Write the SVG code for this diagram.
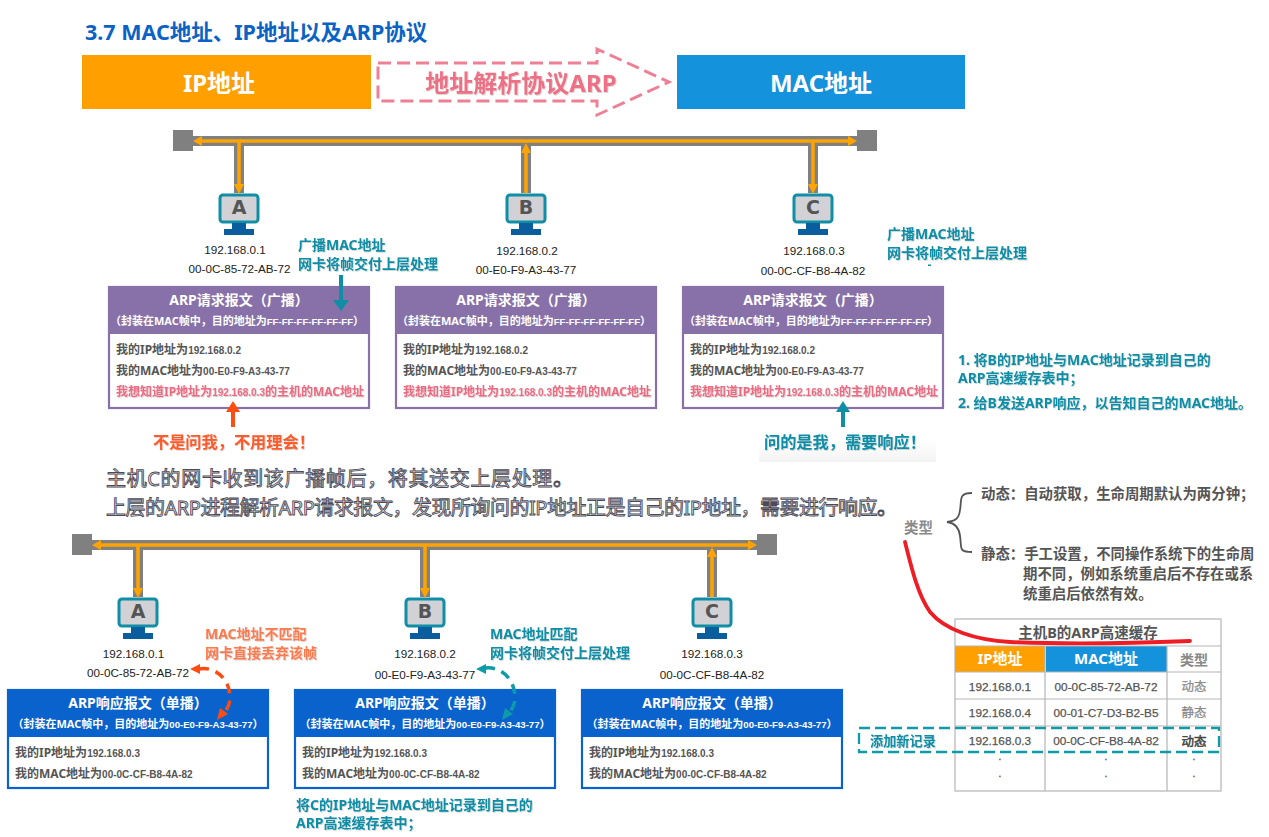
<svg xmlns="http://www.w3.org/2000/svg" width="1269" height="837" viewBox="0 0 1269 837">
<style>
text{font-family:'Noto Sans','Noto Sans CJK SC',sans-serif}
.b{font-weight:700}
.m{text-anchor:middle}
.addr{font-family:'Liberation Sans','Noto Sans CJK SC',sans-serif;font-size:11.7px;fill:#222;text-anchor:middle}
.teal{fill:#0f8ea6;font-weight:700;font-size:14px;filter:url(#soft)}
.body{fill:#555;font-weight:700;font-size:12px}
.num{font-family:'Liberation Sans',sans-serif;font-size:10px}
.tiny{font-family:'Liberation Sans',sans-serif;font-size:9.6px}
.hd{fill:#fff;font-weight:700;font-size:14px;text-anchor:middle}
.sub{fill:#fff;font-weight:700;font-size:11px;text-anchor:middle}
.red{fill:#ee6a80;font-weight:700;font-size:12px;filter:url(#soft)}
.letter{font-family:'DejaVu Sans',sans-serif;font-weight:700;font-size:19px;fill:#555;text-anchor:middle}
.bus{stroke:#808080;stroke-width:10;fill:none}
.flow{stroke:#ffa300;stroke-width:3.5;fill:none}
.cell{font-family:'Liberation Sans','Noto Sans CJK SC',sans-serif;font-size:11.8px;fill:#555;stroke:#555;stroke-width:.25;text-anchor:middle}
.faint{fill:#8a8a8a;stroke:#8a8a8a;font-size:12.5px}
.dark{fill:#444;stroke:#444;stroke-width:.5;font-size:12.5px}
.grid{stroke:#b5b5b5;stroke-width:1.2;fill:none}
.outlined{font-size:20px;fill:#f0f0f5;stroke:#4a4a58;stroke-width:.9}
</style>
<defs>
<filter id="soft" x="-5%" y="-20%" width="110%" height="150%"><feDropShadow dx=".8" dy=".8" stdDeviation=".7" flood-color="#000" flood-opacity=".2"/></filter>
<linearGradient id="fade" x1="0" y1="0" x2="0" y2="1"><stop offset="0" stop-color="#fff"/><stop offset="1" stop-color="#f3f3f3"/></linearGradient>
<g id="pc">
<rect x="-19" y="-20" width="38" height="27" rx="3" fill="#d2d2d6" stroke="#0f8ea6" stroke-width="3"/>
<rect x="-7" y="8" width="14" height="7" fill="#0b5e9e"/>
<rect x="-15" y="14" width="30" height="6" fill="#0b5e9e"/>
</g>
<g id="req">
<rect x="0" y="0" width="260" height="121" fill="#fff" stroke="#8771a8" stroke-width="2.2"/>
<rect x="0" y="0" width="260" height="47" fill="#8771a8"/>
<text class="hd" x="130" y="18">ARP请求报文（广播）</text>
<text class="sub" x="128" y="38">（封装在MAC帧中，目的地址为<tspan class="tiny">FF-FF-FF-FF-FF-FF</tspan>）</text>
<text class="body" x="7" y="67">我的IP地址为<tspan class="num">192.168.0.2</tspan></text>
<text class="body" x="7" y="88">我的MAC地址为<tspan class="num">00-E0-F9-A3-43-77</tspan></text>
<text class="red" x="7" y="109">我想知道IP地址为<tspan class="num">192.168.0.3</tspan>的主机的MAC地址</text>
</g>
<g id="rsp">
<rect x="0" y="0" width="260" height="98" fill="#fff" stroke="#0a63cc" stroke-width="2.2"/>
<rect x="0" y="0" width="260" height="47" fill="#0a63cc"/>
<text class="hd" x="130" y="18">ARP响应报文（单播）</text>
<text class="sub" x="130" y="38">（封装在MAC帧中，目的地址为<tspan class="tiny">00-E0-F9-A3-43-77</tspan>）</text>
<text class="body" x="7" y="67">我的IP地址为<tspan class="num">192.168.0.3</tspan></text>
<text class="body" x="7" y="88">我的MAC地址为<tspan class="num">00-0C-CF-B8-4A-82</tspan></text>
</g>
</defs>
<rect width="1269" height="837" fill="#fff"/>

<text id="title" x="85" y="40" font-size="21.5" font-weight="700" fill="#0a63c4">3.7 MAC地址、IP地址以及ARP协议</text>

<g id="ip-box"><rect x="82" y="55" width="289" height="54" fill="#ffa000"/><text class="b m" x="219" y="92" font-size="24" fill="#fff">IP地址</text></g>
<g id="mac-box"><rect x="677" y="55" width="288" height="54" fill="#1592dc"/><text class="b m" x="821" y="92" font-size="24" fill="#fff">MAC地址</text></g>
<g id="arp-arrow">
<path d="M378 63H597V49L669 82L597 115V101H378Z" fill="none" stroke="#ee8095" stroke-width="3" stroke-dasharray="13 6"/>
<text class="b m" x="521" y="92" font-size="24" fill="#ee6f85" style="filter:url(#soft)">地址解析协议ARP</text>
</g>

<g id="host-A"><use href="#pc" x="239" y="215"/><text class="letter" x="239" y="214">A</text><text class="addr" x="235" y="254">192.168.0.1</text><text class="addr" x="239.500" y="273">00-0C-85-72-AB-72</text></g>
<g id="host-B"><use href="#pc" x="526" y="215"/><text class="letter" x="526" y="214">B</text><text class="addr" x="527" y="255">192.168.0.2</text><text class="addr" x="526" y="274">00-E0-F9-A3-43-77</text></g>
<g id="host-C"><use href="#pc" x="813" y="215"/><text class="letter" x="813" y="214">C</text><text class="addr" x="814" y="255">192.168.0.3</text><text class="addr" x="813" y="275">00-0C-CF-B8-4A-82</text></g>

<g id="req-A"><use href="#req" x="109" y="287"/></g>
<g id="req-B"><use href="#req" x="396" y="287"/></g>
<g id="req-C"><use href="#req" x="683" y="287"/></g>

<g id="host-A2"><use href="#pc" x="138" y="619"/><text class="letter" x="138" y="618">A</text><text class="addr" x="133.500" y="658">192.168.0.1</text><text class="addr" x="138" y="677">00-0C-85-72-AB-72</text></g>
<g id="host-B2"><use href="#pc" x="425" y="619"/><text class="letter" x="425" y="618">B</text><text class="addr" x="425" y="658">192.168.0.2</text><text class="addr" x="425" y="679">00-E0-F9-A3-43-77</text></g>
<g id="host-C2"><use href="#pc" x="712" y="619"/><text class="letter" x="712" y="618">C</text><text class="addr" x="712" y="658">192.168.0.3</text><text class="addr" x="712" y="679">00-0C-CF-B8-4A-82</text></g>

<g id="rsp-A"><use href="#rsp" x="8" y="690"/></g>
<g id="rsp-B"><use href="#rsp" x="295" y="690"/></g>
<g id="rsp-C"><use href="#rsp" x="582" y="690"/></g>

<g id="connectors">
<g id="top-bus">
<path class="bus" d="M183 141H868"/>
<path class="bus" d="M239 141V193M526 141V193M813 141V193"/>
<rect x="173" y="130" width="20" height="21" fill="#808080"/>
<rect x="857" y="130" width="20" height="21" fill="#808080"/>
<path class="flow" d="M199 141H851"/>
<path d="M193 141L202 136V146Z M857 141L848 136V146Z" fill="#ffa300"/>
<path class="flow" d="M239 141V186M526 152V193M813 141V186"/>
<path d="M234 184H244L239 194Z M521 153H531L526 143Z M808 184H818L813 194Z" fill="#ffa300"/>
</g>
<g id="bottom-bus">
<path class="bus" d="M82 545H767"/>
<path class="bus" d="M138 545V597M425 545V597M712 545V597"/>
<rect x="72" y="534" width="20" height="21" fill="#808080"/>
<rect x="757" y="534" width="20" height="21" fill="#808080"/>
<path class="flow" d="M98 545H751"/>
<path d="M92 545L101 540V550Z M757 545L748 540V550Z" fill="#ffa300"/>
<path class="flow" d="M138 545V590M425 545V590M712 556V597"/>
<path d="M133 588H143L138 598Z M420 588H430L425 598Z M707 557H717L712 547Z" fill="#ffa300"/>
</g>
<path id="arrow-broadcast" d="M341 275V302" stroke="#0f8ea6" stroke-width="4" fill="none"/>
<path d="M333 300H349L341 311Z" fill="#0f8ea6"/>
<path id="arrow-ignore" d="M233 427V408" stroke="#ff4d12" stroke-width="4" fill="none"/>
<path d="M226 412H240L233 401Z" fill="#ff4d12"/>
<path id="arrow-answer" d="M843 427V408" stroke="#0f8ea6" stroke-width="4" fill="none"/>
<path d="M836 412H850L843 401Z" fill="#0f8ea6"/>
<path id="arrow-drop" d="M199 669C214 666 230 678 230 698C230 706 225 712 222 716" stroke="#ff4d12" stroke-width="3.500" fill="none" stroke-dasharray="10 7"/>
<path d="M190 669L200 664V674Z M217 720L220 708L228 714Z" fill="#ff4d12"/>
<path id="arrow-match" d="M485 668C500 666 515 678 515 698C515 706 510 712 507 716" stroke="#0f9aa8" stroke-width="3.500" fill="none" stroke-dasharray="10 7"/>
<path d="M476 669L486 664V674Z M502 720L505 708L513 714Z" fill="#0f9aa8"/>
<rect x="928" y="264.500" width="3" height="1.500" fill="#0f8ea6"/>
</g>

<g id="notes-top">
<text class="teal" x="298" y="250">广播MAC地址</text><text class="teal" x="298" y="269">网卡将帧交付上层处理</text>
<text class="teal" x="887" y="239">广播MAC地址</text><text class="teal" x="887" y="258">网卡将帧交付上层处理</text>
<text x="153" y="448" font-size="16.2" font-weight="700" fill="#ff5a2a" style="filter:url(#soft)">不是问我，不用理会！</text>
<rect x="759" y="440" width="177" height="22" fill="url(#fade)"/>
<text x="764" y="448" font-size="16.2" font-weight="700" fill="#0f8ea6" style="filter:url(#soft)">问的是我，需要响应！</text>
<text class="teal" x="958" y="365">1. 将B的IP地址与MAC地址记录到自己的</text>
<text class="teal" x="958" y="383">ARP高速缓存表中；</text>
<text class="teal" x="958" y="408">2. 给B发送ARP响应，以告知自己的MAC地址。</text>
</g>

<g id="caption">
<text class="outlined" x="106" y="486" textLength="467">主机C的网卡收到该广播帧后，将其送交上层处理。</text>
<text class="outlined" x="106" y="515" textLength="791">上层的ARP进程解析ARP请求报文，发现所询问的IP地址正是自己的IP地址，需要进行响应。</text>
</g>

<g id="notes-bottom">
<text x="205" y="639" font-size="14" font-weight="700" fill="#ff7a4d" style="filter:url(#soft)">MAC地址不匹配</text>
<text x="205" y="658" font-size="14" font-weight="700" fill="#ff7a4d" style="filter:url(#soft)">网卡直接丢弃该帧</text>
<text class="teal" x="490" y="639">MAC地址匹配</text>
<text class="teal" x="490" y="658">网卡将帧交付上层处理</text>
<text class="teal" x="296" y="810">将C的IP地址与MAC地址记录到自己的</text>
<text class="teal" x="296" y="828">ARP高速缓存表中；</text>
</g>

<g id="cache-types" font-size="14.4" font-weight="700" fill="#555">
<text x="904" y="533" fill="#8a8a8a">类型</text>
<path d="M972 493C958 493 962 500 960 510C959 519 955 521 947 522C955 523 959 527 960 536C962 548 958 552 972 552" fill="none" stroke="#555" stroke-width="1.800"/>
<text x="981" y="499">动态：自动获取，生命周期默认为两分钟；</text>
<text x="981" y="559">静态：手工设置，不同操作系统下的生命周</text>
<text x="1023" y="579">期不同，例如系统重启后不存在或系</text>
<text x="1023" y="599">统重启后依然有效。</text>
</g>

<g id="cache-table">
<rect class="grid" x="955" y="619" width="266" height="172"/>
<rect x="955" y="646" width="90" height="26" fill="#ffa000"/>
<rect x="1046" y="646" width="121" height="26" fill="#1592dc"/>
<path class="grid" d="M955 646H1221M955 672H1221M955 699H1221M955 726H1221M1045 646V791M1167 646V791"/>
<text class="m b" x="1088" y="638" font-size="14.500" fill="#555">主机B的ARP高速缓存</text>
<text class="m b" x="1000" y="664" font-size="15" fill="#fff">IP地址</text>
<text class="m b" x="1106" y="664" font-size="15" fill="#fff">MAC地址</text>
<text class="m b" x="1194" y="665" font-size="14" fill="#888">类型</text>
<text class="cell" x="1000" y="691">192.168.0.1</text><text class="cell" x="1106" y="691">00-0C-85-72-AB-72</text><text class="cell faint" x="1194" y="691">动态</text>
<text class="cell" x="1000" y="717">192.168.0.4</text><text class="cell" x="1106" y="717">00-01-C7-D3-B2-B5</text><text class="cell faint" x="1194" y="717">静态</text>
<text class="cell" x="1000" y="745">192.168.0.3</text><text class="cell" x="1106" y="745">00-0C-CF-B8-4A-82</text><text class="cell dark" x="1194" y="746">动态</text>
<text class="cell" x="1000" y="760">.</text><text class="cell" x="1106" y="760">.</text><text class="cell" x="1194" y="760">.</text>
<text class="cell" x="1000" y="777">.</text><text class="cell" x="1106" y="777">.</text><text class="cell" x="1194" y="777">.</text>
<rect x="859" y="728" width="360" height="24" fill="none" stroke="#0f9aa8" stroke-width="2.300" stroke-dasharray="11 5"/>
<text x="870" y="746" font-size="13.200" font-weight="700" fill="#0f8ea6" style="filter:url(#soft)">添加新记录</text>
</g>

<path id="pen-stroke" d="M905 542C912 570 918 595 930 612C945 630 975 640 1010 642C1080 645 1140 643 1190 641" fill="none" stroke="#ee1c25" stroke-width="3.800" stroke-linecap="round"/>
</svg>
